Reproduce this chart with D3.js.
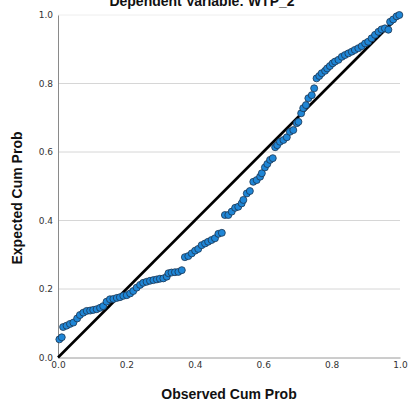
<!DOCTYPE html>
<html lang="en">
<head>
	<meta charset="UTF-8">
	<title>P-P Plot</title>
	<style>
		* {padding:0; margin:0;}
		body {background:#fff;}
		#myGraph {width:409px; height:405px; display:block;}
		.grid line {stroke:#d6d6d6; stroke-width:1px;}
		.tick text {font-family:"DejaVu Sans", sans-serif; font-size:9px; fill:#333;}
		.axisTitle {font-family:"Liberation Sans", Arial, sans-serif; font-size:14px; font-weight:bold; text-anchor:middle; fill:#111;}
		.dot {fill:rgb(31, 134, 214); stroke:#1c3550; stroke-width:0.8px;}
	</style>
</head>
<body>
	<script src="https://d3js.org/d3.v7.min.js"></script>

	<svg id="myGraph"></svg>

<script>
// chart texts
var chartTitle = "Dependent Variable: WTP_2";
var xTitle = "Observed Cum Prob";
var yTitle = "Expected Cum Prob";
var tickValues = [0, 0.2, 0.4, 0.6, 0.8, 1.0];

// observed cumulative probability (x) and expected cumulative probability (y)
var observed = [
	0.004, 0.011, 0.015, 0.025, 0.035, 0.045, 0.056, 0.064, 0.074, 0.084,
	0.094, 0.103, 0.113, 0.123, 0.132, 0.142, 0.152, 0.162, 0.172, 0.181,
	0.191, 0.201, 0.211, 0.220, 0.230, 0.240, 0.249, 0.259, 0.269, 0.279,
	0.289, 0.298, 0.308, 0.318, 0.323, 0.332, 0.342, 0.352, 0.362, 0.371,
	0.381, 0.391, 0.401, 0.410, 0.420, 0.430, 0.439, 0.449, 0.459, 0.469,
	0.479, 0.488, 0.498, 0.508, 0.518, 0.527, 0.537, 0.542, 0.552, 0.561,
	0.571, 0.581, 0.591, 0.596, 0.605, 0.612, 0.620, 0.628, 0.635, 0.641,
	0.649, 0.659, 0.669, 0.678, 0.688, 0.698, 0.703, 0.711, 0.717, 0.725,
	0.732, 0.742, 0.749, 0.756, 0.764, 0.771, 0.781, 0.787, 0.795, 0.803,
	0.810, 0.820, 0.830, 0.839, 0.849, 0.859, 0.868, 0.878, 0.888, 0.898,
	0.907, 0.917, 0.927, 0.937, 0.946, 0.956, 0.966, 0.971, 0.980, 0.990,
	0.998
];
var expected = [
	0.053, 0.059, 0.089, 0.093, 0.098, 0.102, 0.114, 0.124, 0.131, 0.136,
	0.137, 0.139, 0.141, 0.145, 0.150, 0.163, 0.170, 0.171, 0.174, 0.176,
	0.180, 0.182, 0.187, 0.194, 0.204, 0.212, 0.218, 0.221, 0.224, 0.226,
	0.228, 0.230, 0.231, 0.236, 0.246, 0.248, 0.249, 0.250, 0.255, 0.293,
	0.296, 0.304, 0.312, 0.317, 0.328, 0.333, 0.338, 0.343, 0.348, 0.361,
	0.364, 0.416, 0.416, 0.426, 0.437, 0.440, 0.450, 0.460, 0.479, 0.486,
	0.513, 0.518, 0.528, 0.538, 0.555, 0.565, 0.577, 0.582, 0.614, 0.620,
	0.630, 0.635, 0.643, 0.659, 0.664, 0.684, 0.688, 0.713, 0.728, 0.737,
	0.757, 0.766, 0.786, 0.815, 0.822, 0.830, 0.837, 0.844, 0.851, 0.859,
	0.864, 0.869, 0.878, 0.883, 0.888, 0.893, 0.898, 0.903, 0.909, 0.917,
	0.922, 0.932, 0.942, 0.951, 0.958, 0.961, 0.957, 0.980, 0.987, 0.996,
	1.000
];

var svgWidth = 409;
var svgHeight = 405;
var margin = {top:15, right:9, bottom:47.5, left:58};
var plotW = svgWidth - margin.left - margin.right;
var plotH = svgHeight - margin.top - margin.bottom;

var svg = d3.select("#myGraph")
	.attr("width", svgWidth)
	.attr("height", svgHeight);

var xScale = d3.scaleLinear().domain([0, 1]).range([margin.left, margin.left + plotW]);
var yScale = d3.scaleLinear().domain([0, 1]).range([margin.top + plotH, margin.top]);

// horizontal grid lines
svg.append("g")
	.attr("class", "grid")
	.selectAll("line")
	.data(tickValues.slice(1, -1))
	.enter()
	.append("line")
	.attr("x1", xScale(0))
	.attr("x2", xScale(1))
	.attr("y1", function(d){ return yScale(d); })
	.attr("y2", function(d){ return yScale(d); });

// faint top border
svg.append("line")
	.attr("x1", xScale(0)).attr("x2", xScale(1))
	.attr("y1", yScale(1)).attr("y2", yScale(1))
	.attr("stroke", "#eeeeee");

// axes
var xAxis = d3.axisBottom(xScale).tickValues(tickValues).tickFormat(d3.format(".1f")).tickSize(0).tickPadding(4);
var yAxis = d3.axisLeft(yScale).tickValues(tickValues).tickFormat(d3.format(".1f")).tickSize(0).tickPadding(5);

var gx = svg.append("g")
	.attr("transform", "translate(0," + yScale(0) + ")")
	.call(xAxis);
gx.select(".domain").attr("stroke", "#9a9a9a");

var gy = svg.append("g")
	.attr("transform", "translate(" + xScale(0) + ",0)")
	.call(yAxis);
gy.select(".domain").attr("stroke", "#8a8a8a");

// reference diagonal
svg.append("line")
	.attr("x1", xScale(0)).attr("y1", yScale(0))
	.attr("x2", xScale(1)).attr("y2", yScale(1))
	.attr("stroke", "#000")
	.attr("stroke-width", 2.6);

// points
svg.append("g")
	.selectAll("circle")
	.data(observed)
	.enter()
	.append("circle")
	.attr("class", "dot")
	.attr("cx", function(d){ return xScale(d); })
	.attr("cy", function(d, i){ return yScale(expected[i]); })
	.attr("r", 3.5);

// titles
svg.append("text")
	.attr("class", "axisTitle")
	.attr("x", 202)
	.attr("y", 6)
	.text(chartTitle);

svg.append("text")
	.attr("class", "axisTitle")
	.attr("x", 229)
	.attr("y", 399)
	.text(xTitle);

svg.append("text")
	.attr("class", "axisTitle")
	.attr("transform", "translate(22,198) rotate(-90)")
	.text(yTitle);
</script>
</body>
</html>
